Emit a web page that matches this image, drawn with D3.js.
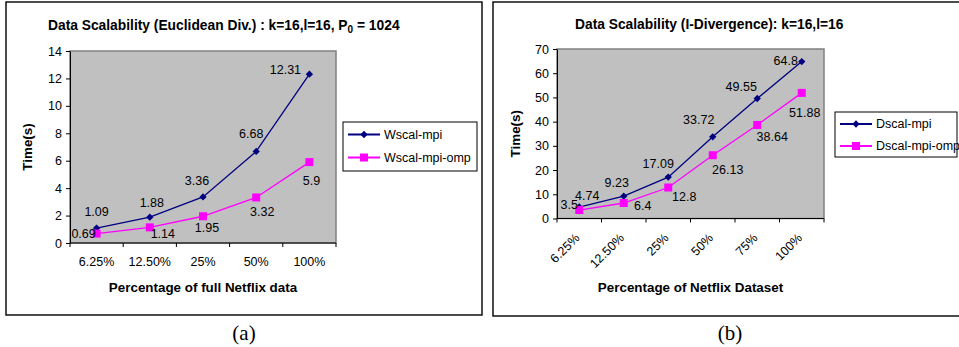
<!DOCTYPE html>
<html>
<head>
<meta charset="utf-8">
<script src="https://cdn.jsdelivr.net/npm/d3@7"></script>
<style>
  body { margin: 0; background: #fff; }
  svg { display: block; font-family: "Liberation Sans", Arial, sans-serif; }
</style>
</head>
<body>
<svg id="chart" width="959" height="347"></svg>
<script>
// chart (a)
const catsA = ['6.25%', '12.50%', '25%', '50%', '100%'];
const mpiA = [1.09, 1.88, 3.36, 6.68, 12.31];
const ompA = [0.69, 1.14, 1.95, 3.32, 5.9];
const yTicksA = [0, 2, 4, 6, 8, 10, 12, 14];

// chart (b)
const catsB = ['6.25%', '12.50%', '25%', '50%', '75%', '100%'];
const mpiB = [4.74, 9.23, 17.09, 33.72, 49.55, 64.8];
const ompB = [3.5, 6.4, 12.8, 26.13, 38.64, 51.88];
const yTicksB = [0, 10, 20, 30, 40, 50, 60, 70];

const NAVY = '#000080', PINK = '#ff00ff';
const FS = 12.5, FS_AXIS = 13.4, FS_TITLE = 13.8;
const SQ = 8;

const svg = d3.select('#chart');

function drawChart(o) {
  const g = svg.append('g');

  // outer frame
  g.append('rect')
      .attr('x', o.frame[0]).attr('y', o.frame[1])
      .attr('width', o.frame[2]).attr('height', o.frame[3])
      .attr('fill', '#fff').attr('stroke', '#000').attr('stroke-width', 1.4);

  const x = d3.scaleBand().domain(o.cats).range([o.plot[0], o.plot[2]]);
  const y = d3.scaleLinear().domain([0, o.yMax]).range([o.plot[3], o.plot[1]]);

  // plot area
  g.append('rect')
      .attr('x', o.plot[0]).attr('y', o.plot[1])
      .attr('width', o.plot[2] - o.plot[0]).attr('height', o.plot[3] - o.plot[1])
      .attr('fill', '#c0c0c0').attr('stroke', '#808080').attr('stroke-width', 1.5);

  // y axis
  const ya = g.append('g')
      .attr('transform', `translate(${o.plot[0]},0)`)
      .call(d3.axisLeft(y).tickValues(o.yTicks).tickSize(4).tickPadding(4).tickSizeOuter(0));
  ya.attr('font-family', null).attr('font-size', null);
  ya.selectAll('text').attr('font-size', FS).attr('fill', '#000');
  ya.selectAll('line, path').attr('stroke', '#000');

  // x axis: ticks sit on the category boundaries
  const xa = g.append('g').attr('transform', `translate(0,${o.plot[3]})`);
  xa.append('line').attr('x1', o.plot[0]).attr('x2', o.plot[2]).attr('stroke', '#000');
  xa.selectAll('line.tk')
    .data(o.cats.map(c => x(c)).concat([x.range()[1]]))
    .enter().append('line')
      .attr('class', 'tk')
      .attr('x1', d => d).attr('x2', d => d)
      .attr('y1', 0).attr('y2', 4)
      .attr('stroke', '#000');
  const xl = xa.selectAll('text.cat')
    .data(o.cats)
    .enter().append('text')
      .attr('class', 'cat')
      .attr('font-size', FS)
      .text(d => d);
  if (o.rotate) {
    xl.attr('text-anchor', 'end')
      .attr('transform', d => `translate(${x(d) + x.bandwidth() / 2 - 5},14) rotate(-45)`)
      .attr('dy', '0.7em');
  } else {
    xl.attr('text-anchor', 'middle')
      .attr('x', d => x(d) + x.bandwidth() / 2)
      .attr('y', 23);
  }

  // lines and markers
  const cx = (d, i) => x(o.cats[i]) + x.bandwidth() / 2;
  const line = d3.line().x(cx).y(d => y(d));

  g.append('path').datum(o.mpi)
      .attr('d', line).attr('fill', 'none')
      .attr('stroke', NAVY).attr('stroke-width', 1.3);
  g.append('path').datum(o.omp)
      .attr('d', line).attr('fill', 'none')
      .attr('stroke', PINK).attr('stroke-width', 1.3);

  const diamond = d3.symbol().type(d3.symbolDiamond2).size(34);
  g.selectAll('path.mpi').data(o.mpi).enter().append('path')
      .attr('d', diamond)
      .attr('transform', (d, i) => `translate(${cx(d, i)},${y(d)})`)
      .attr('fill', NAVY);
  g.selectAll('rect.omp').data(o.omp).enter().append('rect')
      .attr('x', (d, i) => cx(d, i) - SQ / 2).attr('y', d => y(d) - SQ / 2)
      .attr('width', SQ).attr('height', SQ)
      .attr('fill', PINK);

  // data labels
  const lbl = (vals, offs) => g.selectAll(null).data(vals).enter().append('text')
      .attr('x', (d, i) => cx(d, i) + offs[i][0])
      .attr('y', (d, i) => y(d) + offs[i][1])
      .attr('dy', '0.35em')
      .attr('text-anchor', 'middle')
      .attr('font-size', FS)
      .attr('fill', '#000')
      .text(d => d);
  lbl(o.mpi, o.mpiOff);
  lbl(o.omp, o.ompOff);

  // titles
  const t = g.append('text')
      .attr('x', o.titlePos[0]).attr('y', o.titlePos[1])
      .attr('font-size', FS_TITLE).attr('font-weight', 'bold')
      .attr('dy', '0.35em');
  o.title(t);

  g.append('text')
      .attr('x', (o.plot[0] + o.plot[2]) / 2).attr('y', o.xTitleY)
      .attr('dy', '0.35em')
      .attr('text-anchor', 'middle')
      .attr('font-size', FS_AXIS).attr('font-weight', 'bold')
      .text(o.xTitle);

  g.append('text')
      .attr('transform', `translate(${o.yTitleX},${(o.plot[1] + o.plot[3]) / 2}) rotate(-90)`)
      .attr('dy', '0.35em')
      .attr('text-anchor', 'middle')
      .attr('font-size', FS_AXIS).attr('font-weight', 'bold')
      .text('Time(s)');

  // legend
  const lg = g.append('g');
  lg.append('rect')
      .attr('x', o.legend[0]).attr('y', o.legend[1])
      .attr('width', o.legend[2]).attr('height', o.legend[3])
      .attr('fill', '#fff').attr('stroke', '#000').attr('stroke-width', 1);
  const items = [
    { name: o.names[0], color: NAVY, sq: false },
    { name: o.names[1], color: PINK, sq: true }
  ];
  items.forEach((it, i) => {
    const ly = o.legend[1] + o.legendRow * (i + 0.5) + 1;
    const lx = o.legend[0] + 5;
    lg.append('line')
        .attr('x1', lx).attr('x2', lx + 32)
        .attr('y1', ly).attr('y2', ly)
        .attr('stroke', it.color).attr('stroke-width', 2);
    if (it.sq) {
      lg.append('rect')
          .attr('x', lx + 16 - SQ / 2).attr('y', ly - SQ / 2)
          .attr('width', SQ).attr('height', SQ)
          .attr('fill', it.color);
    } else {
      lg.append('path')
          .attr('d', diamond)
          .attr('transform', `translate(${lx + 16},${ly})`)
          .attr('fill', it.color);
    }
    lg.append('text')
        .attr('x', lx + 36).attr('y', ly)
        .attr('dy', '0.35em')
        .attr('font-size', FS)
        .text(it.name);
  });

  // caption
  svg.append('text')
      .attr('x', o.caption[0]).attr('y', o.caption[1])
      .attr('text-anchor', 'middle')
      .attr('font-family', '"Liberation Serif", "Times New Roman", serif')
      .attr('font-size', 21)
      .text(o.captionText);
}

drawChart({
  frame: [6, 2, 476, 313],
  plot: [70, 51, 336, 243],
  cats: catsA, mpi: mpiA, omp: ompA, yTicks: yTicksA, yMax: 14,
  mpiOff: [[0, -16], [2, -15], [-6, -16], [-5, -18], [-24, -5]],
  ompOff: [[-13, 0], [13, 6], [4, 11], [6, 14], [2, 19]],
  titlePos: [48, 25],
  title: t => {
    t.append('tspan').text('Data Scalability (Euclidean Div.) : k=16,l=16, P');
    t.append('tspan').attr('font-size', 10).attr('dy', '3').text('0');
    t.append('tspan').attr('dy', '-3').text(' = 1024');
  },
  xTitle: 'Percentage of full Netflix data', xTitleY: 287,
  yTitleX: 27,
  legend: [343, 122, 134, 49], legendRow: 23,
  names: ['Wscal-mpi', 'Wscal-mpi-omp'],
  caption: [244, 340], captionText: '(a)'
});

drawChart({
  frame: [493, 2, 475, 314],
  plot: [557, 49, 824, 218.5],
  cats: catsB, mpi: mpiB, omp: ompB, yTicks: yTicksB, yMax: 70,
  mpiOff: [[8, -11], [-7, -14], [-10, -13], [-14, -17], [-16, -12], [-16, -1]],
  ompOff: [[-10, -5], [19, 3], [16, 9], [15, 14], [15, 12], [3, 20]],
  titlePos: [575, 24],
  title: t => t.text('Data Scalability (I-Divergence): k=16,l=16'),
  xTitle: 'Percentage of Netflix Dataset', xTitleY: 287,
  yTitleX: 515,
  legend: [835, 112, 122, 45], legendRow: 22,
  names: ['Dscal-mpi', 'Dscal-mpi-omp'],
  rotate: true,
  caption: [730, 340], captionText: '(b)'
});
</script>
</body>
</html>
